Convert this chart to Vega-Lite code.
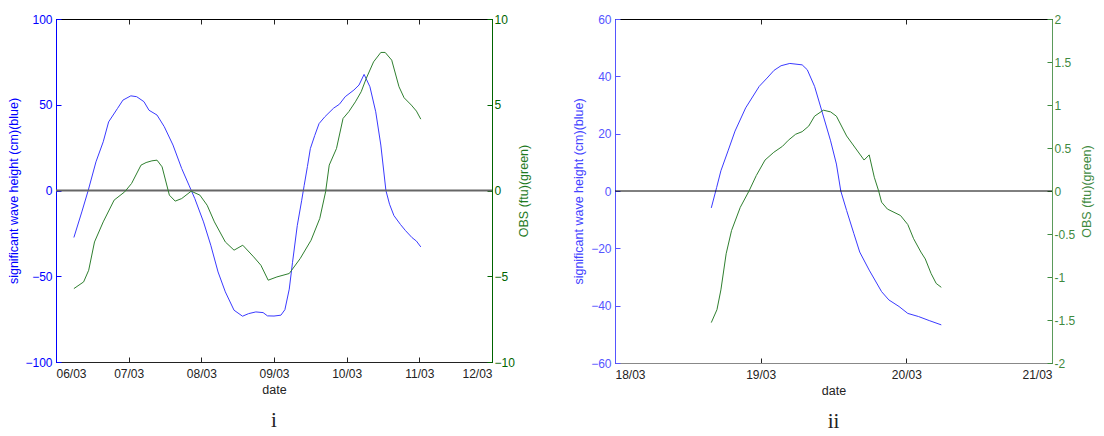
{
  "$schema": "https://vega.github.io/schema/vega-lite/v6.json",
  "padding": {"left": 7, "top": 12, "right": 2, "bottom": 5},
  "background": "white",
  "config": {
    "font": "Liberation Sans",
    "view": {"stroke": "black", "strokeWidth": 1},
    "axis": {"labelFont": "Liberation Sans", "titleFont": "Liberation Sans", "labelFontSize": 12, "titleFontSize": 12.5, "titleFontWeight": "normal", "grid": false, "tickSize": -5, "labelPadding": 9, "domainWidth": 1, "tickWidth": 1},
    "title": {"font": "Liberation Serif", "fontSize": 21, "fontWeight": "normal", "color": "#222", "orient": "bottom", "offset": 14}
  },
  "datasets": {
    "p1blue": [
      {"day": 6.246, "v": -27.4}, {"day": 6.355, "v": -12.5}, {"day": 6.443, "v": 0}, {"day": 6.55, "v": 16.7}, {"day": 6.65, "v": 28.4}, {"day": 6.724, "v": 40}, {"day": 6.847, "v": 47.9}, {"day": 6.921, "v": 52.7}, {"day": 7.03, "v": 55.2}, {"day": 7.11, "v": 54.7}, {"day": 7.21, "v": 51.8}, {"day": 7.28, "v": 46.8}, {"day": 7.39, "v": 44}, {"day": 7.49, "v": 37.2}, {"day": 7.61, "v": 26.5}, {"day": 7.73, "v": 12.8}, {"day": 7.83, "v": 3.1}, {"day": 7.91, "v": -4.7}, {"day": 8.03, "v": -18.3}, {"day": 8.13, "v": -31.9}, {"day": 8.23, "v": -47.5}, {"day": 8.33, "v": -59.1}, {"day": 8.45, "v": -69.8}, {"day": 8.567, "v": -73.3}, {"day": 8.65, "v": -71.8}, {"day": 8.75, "v": -70.8}, {"day": 8.85, "v": -71.2}, {"day": 8.91, "v": -73.1}, {"day": 9.0, "v": -73.2}, {"day": 9.095, "v": -72.7}, {"day": 9.15, "v": -69.5}, {"day": 9.21, "v": -57.5}, {"day": 9.255, "v": -41.9}, {"day": 9.32, "v": -20.5}, {"day": 9.38, "v": -6}, {"day": 9.415, "v": 2.9}, {"day": 9.46, "v": 14}, {"day": 9.5, "v": 24.4}, {"day": 9.56, "v": 32}, {"day": 9.62, "v": 39}, {"day": 9.70, "v": 43}, {"day": 9.82, "v": 48}, {"day": 9.90, "v": 50.3}, {"day": 9.98, "v": 54.7}, {"day": 10.1, "v": 58.6}, {"day": 10.17, "v": 61.5}, {"day": 10.24, "v": 67.7}, {"day": 10.32, "v": 60.5}, {"day": 10.4, "v": 45.9}, {"day": 10.47, "v": 26.5}, {"day": 10.54, "v": 0}, {"day": 10.59, "v": -8}, {"day": 10.65, "v": -14.6}, {"day": 10.74, "v": -19.8}, {"day": 10.81, "v": -23.4}, {"day": 10.9, "v": -27.5}, {"day": 10.96, "v": -29.5}, {"day": 11.02, "v": -32.9}
    ],
    "p1green": [
      {"day": 6.246, "v": -5.72}, {"day": 6.38, "v": -5.33}, {"day": 6.45, "v": -4.65}, {"day": 6.53, "v": -3.0}, {"day": 6.65, "v": -1.83}, {"day": 6.8, "v": -0.56}, {"day": 6.945, "v": -0.08}, {"day": 7.04, "v": 0.41}, {"day": 7.17, "v": 1.48}, {"day": 7.24, "v": 1.63}, {"day": 7.32, "v": 1.73}, {"day": 7.39, "v": 1.77}, {"day": 7.46, "v": 1.38}, {"day": 7.56, "v": -0.27}, {"day": 7.64, "v": -0.62}, {"day": 7.73, "v": -0.47}, {"day": 7.86, "v": -0.04}, {"day": 7.98, "v": -0.27}, {"day": 8.08, "v": -0.86}, {"day": 8.18, "v": -1.83}, {"day": 8.33, "v": -3.0}, {"day": 8.45, "v": -3.48}, {"day": 8.57, "v": -3.19}, {"day": 8.72, "v": -3.87}, {"day": 8.82, "v": -4.36}, {"day": 8.92, "v": -5.23}, {"day": 9.04, "v": -5.04}, {"day": 9.21, "v": -4.84}, {"day": 9.36, "v": -3.97}, {"day": 9.51, "v": -2.9}, {"day": 9.63, "v": -1.63}, {"day": 9.71, "v": -0.08}, {"day": 9.76, "v": 1.48}, {"day": 9.86, "v": 2.45}, {"day": 9.95, "v": 4.2}, {"day": 10.03, "v": 4.6}, {"day": 10.12, "v": 5.17}, {"day": 10.2, "v": 5.76}, {"day": 10.27, "v": 6.54}, {"day": 10.37, "v": 7.5}, {"day": 10.47, "v": 8.05}, {"day": 10.53, "v": 8.05}, {"day": 10.62, "v": 7.6}, {"day": 10.72, "v": 6.05}, {"day": 10.79, "v": 5.41}, {"day": 10.89, "v": 4.98}, {"day": 10.96, "v": 4.63}, {"day": 11.02, "v": 4.16}
    ],
    "p2blue": [
      {"day": 18.661, "v": -5.9}, {"day": 18.698, "v": 1.27}, {"day": 18.727, "v": 7.05}, {"day": 18.776, "v": 14}, {"day": 18.824, "v": 20.9}, {"day": 18.897, "v": 29}, {"day": 18.99, "v": 36.5}, {"day": 19.044, "v": 39.4}, {"day": 19.092, "v": 42.1}, {"day": 19.14, "v": 43.7}, {"day": 19.2, "v": 44.5}, {"day": 19.285, "v": 44}, {"day": 19.32, "v": 42.3}, {"day": 19.37, "v": 36.5}, {"day": 19.42, "v": 27.9}, {"day": 19.48, "v": 17.5}, {"day": 19.52, "v": 9.4}, {"day": 19.55, "v": 0}, {"day": 19.59, "v": -6.8}, {"day": 19.64, "v": -14.9}, {"day": 19.68, "v": -21.3}, {"day": 19.745, "v": -27.6}, {"day": 19.83, "v": -35.1}, {"day": 19.88, "v": -38}, {"day": 19.95, "v": -40.3}, {"day": 20.01, "v": -42.7}, {"day": 20.084, "v": -43.8}, {"day": 20.157, "v": -45.2}, {"day": 20.24, "v": -46.7}
    ],
    "p2green": [
      {"day": 18.661, "v": -1.53}, {"day": 18.70, "v": -1.38}, {"day": 18.727, "v": -1.15}, {"day": 18.763, "v": -0.73}, {"day": 18.8, "v": -0.46}, {"day": 18.86, "v": -0.19}, {"day": 18.92, "v": 0}, {"day": 18.97, "v": 0.18}, {"day": 19.03, "v": 0.36}, {"day": 19.09, "v": 0.45}, {"day": 19.15, "v": 0.52}, {"day": 19.19, "v": 0.59}, {"day": 19.24, "v": 0.66}, {"day": 19.285, "v": 0.69}, {"day": 19.33, "v": 0.755}, {"day": 19.37, "v": 0.87}, {"day": 19.43, "v": 0.94}, {"day": 19.48, "v": 0.92}, {"day": 19.52, "v": 0.87}, {"day": 19.59, "v": 0.64}, {"day": 19.65, "v": 0.5}, {"day": 19.71, "v": 0.36}, {"day": 19.745, "v": 0.42}, {"day": 19.78, "v": 0.16}, {"day": 19.81, "v": 0}, {"day": 19.83, "v": -0.13}, {"day": 19.87, "v": -0.21}, {"day": 19.96, "v": -0.285}, {"day": 20.01, "v": -0.39}, {"day": 20.05, "v": -0.555}, {"day": 20.1, "v": -0.71}, {"day": 20.13, "v": -0.79}, {"day": 20.17, "v": -0.96}, {"day": 20.205, "v": -1.075}, {"day": 20.24, "v": -1.12}
    ]
  },
  "spacing": 41,
  "hconcat": [
    {
      "title": "i",
      "width": 436,
      "height": 343,
      "resolve": {"scale": {"y": "independent"}, "axis": {"x": "independent"}},
      "layer": [
        {
          "layer": [
            {
              "data": {"name": "p1blue"},
              "mark": {"type": "line", "color": "#3a3aff", "strokeWidth": 1, "clip": true},
              "encoding": {
                "x": {"field": "day", "type": "quantitative", "scale": {"domain": [6, 12], "nice": false, "zero": false}, "axis": {"orient": "bottom", "values": [6, 7, 8, 9, 10, 11, 12], "labelExpr": "(datum.value < 10 ? '0' : '') + datum.value + '/03'", "title": "date", "domainColor": "#222", "tickColor": "#222", "labelColor": "#222", "titleColor": "#222", "labelPadding": 11, "titlePadding": 4}},
                "y": {"field": "v", "type": "quantitative", "scale": {"domain": [-100, 100], "nice": false}, "axis": {"orient": "left", "values": [-100, -50, 0, 50, 100], "title": "significant wave height (cm)(blue)", "domainColor": "#0000ff", "tickColor": "#0000ff", "labelColor": "#0000ff", "titleColor": "#0000ff", "titlePadding": 4}}
              }
            },
            {
              "data": {"values": [{"z": 0}]},
              "mark": {"type": "rule", "color": "#666666", "strokeWidth": 2},
              "encoding": {"y": {"field": "z", "type": "quantitative"}}
            }
          ]
        },
        {
          "data": {"name": "p1green"},
          "mark": {"type": "line", "color": "#2f7f2f", "strokeWidth": 1, "clip": true},
          "encoding": {
            "x": {"field": "day", "type": "quantitative", "axis": {"orient": "top", "values": [6, 7, 8, 9, 10, 11, 12], "labels": false, "title": null, "domainColor": "black", "tickColor": "#222"}},
            "y": {"field": "v", "type": "quantitative", "scale": {"domain": [-10, 10], "nice": false}, "axis": {"orient": "right", "values": [-10, -5, 0, 5, 10], "title": "OBS (ftu)(green)", "titleAngle": 270, "titleBaseline": "top", "domainColor": "#006400", "tickColor": "#006400", "labelColor": "#006400", "titleColor": "#1f7a1f", "labelPadding": 7, "titlePadding": 3}}
          }
        }
      ]
    },
    {
      "title": "ii",
      "width": 437,
      "height": 344,
      "resolve": {"scale": {"y": "independent"}, "axis": {"x": "independent"}},
      "layer": [
        {
          "layer": [
            {
              "data": {"name": "p2blue"},
              "mark": {"type": "line", "color": "#3a3aff", "strokeWidth": 1, "clip": true},
              "encoding": {
                "x": {"field": "day", "type": "quantitative", "scale": {"domain": [18, 21], "nice": false, "zero": false}, "axis": {"orient": "bottom", "values": [18, 19, 20, 21], "labelExpr": "datum.value + '/03'", "title": "date", "domainColor": "#888888", "tickColor": "#222", "labelColor": "#222", "titleColor": "#222", "labelPadding": 11, "titlePadding": 4}},
                "y": {"field": "v", "type": "quantitative", "scale": {"domain": [-60, 60], "nice": false}, "axis": {"orient": "left", "values": [-60, -40, -20, 0, 20, 40, 60], "title": "significant wave height (cm)(blue)", "domainColor": "#5555ff", "tickColor": "#5555ff", "labelColor": "#5555ff", "titleColor": "#4444ff", "titlePadding": 5}}
              }
            },
            {
              "data": {"values": [{"z": 0}]},
              "mark": {"type": "rule", "color": "black", "strokeWidth": 1},
              "encoding": {"y": {"field": "z", "type": "quantitative"}}
            }
          ]
        },
        {
          "data": {"name": "p2green"},
          "mark": {"type": "line", "color": "#2f7f2f", "strokeWidth": 1, "clip": true},
          "encoding": {
            "x": {"field": "day", "type": "quantitative", "axis": {"orient": "top", "values": [18, 19, 20, 21], "labels": false, "title": null, "domainColor": "black", "tickColor": "#222"}},
            "y": {"field": "v", "type": "quantitative", "scale": {"domain": [-2, 2], "nice": false}, "axis": {"orient": "right", "values": [-2, -1.5, -1, -0.5, 0, 0.5, 1, 1.5, 2], "labelExpr": "'' + datum.value", "title": "OBS (ftu)(green)", "titleAngle": 270, "titleBaseline": "top", "domainColor": "#5a9a5a", "tickColor": "#3f8a3f", "labelColor": "#3f8a3f", "titleColor": "#3f8a3f", "labelPadding": 7, "titlePadding": 6}}
          }
        }
      ]
    }
  ]
}
